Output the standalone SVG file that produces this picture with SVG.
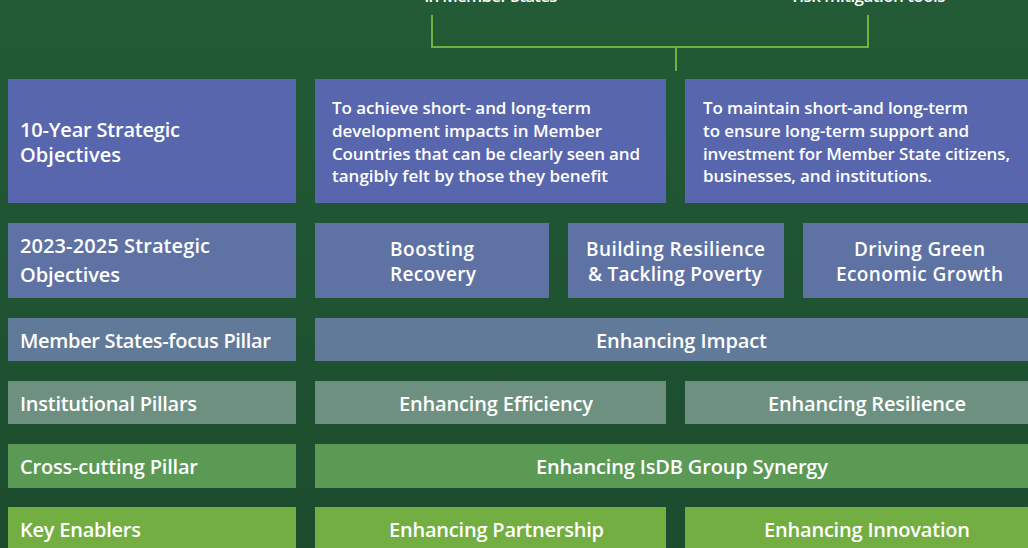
<svg xmlns="http://www.w3.org/2000/svg" width="1028" height="548" viewBox="0 0 1028 548">
<defs>
<linearGradient id="bg" x1="0" y1="0" x2="0" y2="1">
<stop offset="0" stop-color="#225b36"/>
<stop offset="1" stop-color="#1c4c2e"/>
</linearGradient>
</defs>
<style>
text{font-family:"Open Sans","Liberation Sans",sans-serif;font-weight:600;fill:#ffffff;}
.h{font-size:20px;}
.s{font-size:19px;}
.p{font-size:17px;}
.c{text-anchor:middle;}
.r1{fill:#5866ae;}
.r2{fill:#5f72a4;}
.r3{fill:#617a99;}
.r4{fill:#6d9080;}
.r5{fill:#5a9a55;}
.r6{fill:#73ae42;}
.conn{fill:none;stroke:#74b143;stroke-width:2;}
</style>
<rect width="1028" height="548" fill="url(#bg)"/>
<g id="top-labels">
<text class="p c" x="491" y="2" textLength="133">in Member States</text>
<text class="p c" x="869" y="2" textLength="153">risk mitigation tools</text>
</g>
<g id="connectors">
<path class="conn" d="M432 15 V47 H868 V15"/>
<path class="conn" d="M676 47 V71"/>
</g>
<g id="row1-label"><rect class="r1" x="8" y="79" width="288" height="124"/>
<text class="h" x="20" y="137" textLength="160">10-Year Strategic</text>
<text class="h" x="20" y="162" textLength="101">Objectives</text></g>
<g id="row1-obj1"><rect class="r1" x="315" y="79" width="351" height="124"/>
<text class="p" x="332" y="114" textLength="259">To achieve short- and long-term</text>
<text class="p" x="332" y="137" textLength="270">development impacts in Member</text>
<text class="p" x="332" y="160" textLength="308">Countries that can be clearly seen and</text>
<text class="p" x="332" y="182" textLength="276">tangibly felt by those they benefit</text></g>
<g id="row1-obj2"><rect class="r1" x="685" y="79" width="343" height="124"/>
<text class="p" x="703" y="114" textLength="265">To maintain short-and long-term</text>
<text class="p" x="703" y="137" textLength="266">to ensure long-term support and</text>
<text class="p" x="703" y="160" textLength="307">investment for Member State citizens,</text>
<text class="p" x="703" y="182" textLength="229">businesses, and institutions.</text></g>
<g id="row2-label"><rect class="r2" x="8" y="223" width="288" height="75"/>
<text class="h" x="20" y="253" textLength="190">2023-2025 Strategic</text>
<text class="h" x="20" y="282" textLength="100">Objectives</text></g>
<g id="row2-boosting"><rect class="r2" x="315" y="223" width="234" height="75"/>
<text class="s c" x="432" y="256" textLength="84">Boosting</text>
<text class="s c" x="433" y="281" textLength="86">Recovery</text></g>
<g id="row2-building"><rect class="r2" x="568" y="223" width="216" height="75"/>
<text class="s c" x="675.5" y="256" textLength="179">Building Resilience</text>
<text class="s c" x="675" y="281" textLength="174">&amp; Tackling Poverty</text></g>
<g id="row2-driving"><rect class="r2" x="803" y="223" width="225" height="75"/>
<text class="s c" x="919.5" y="256" textLength="131">Driving Green</text>
<text class="s c" x="919.5" y="281" textLength="167">Economic Growth</text></g>
<g id="row3-label"><rect class="r3" x="8" y="318" width="288" height="43"/>
<text class="h" x="20" y="348" textLength="251">Member States-focus Pillar</text></g>
<g id="row3-impact"><rect class="r3" x="315" y="318" width="713" height="43"/>
<text class="h c" x="681.5" y="348" textLength="171">Enhancing Impact</text></g>
<g id="row4-label"><rect class="r4" x="8" y="381" width="288" height="43"/>
<text class="h" x="20" y="411" textLength="177">Institutional Pillars</text></g>
<g id="row4-efficiency"><rect class="r4" x="315" y="381" width="351" height="43"/>
<text class="h c" x="496" y="411" textLength="194">Enhancing Efficiency</text></g>
<g id="row4-resilience"><rect class="r4" x="685" y="381" width="343" height="43"/>
<text class="h c" x="867" y="411" textLength="198">Enhancing Resilience</text></g>
<g id="row5-label"><rect class="r5" x="8" y="444" width="288" height="44"/>
<text class="h" x="20" y="474" textLength="178">Cross-cutting Pillar</text></g>
<g id="row5-synergy"><rect class="r5" x="315" y="444" width="713" height="44"/>
<text class="h c" x="682" y="474" textLength="292">Enhancing IsDB Group Synergy</text></g>
<g id="row6-label"><rect class="r6" x="8" y="507" width="288" height="45"/>
<text class="h" x="20" y="537" textLength="121">Key Enablers</text></g>
<g id="row6-partnership"><rect class="r6" x="315" y="507" width="351" height="45"/>
<text class="h c" x="496.5" y="537" textLength="215">Enhancing Partnership</text></g>
<g id="row6-innovation"><rect class="r6" x="685" y="507" width="343" height="45"/>
<text class="h c" x="867" y="537" textLength="206">Enhancing Innovation</text></g>
</svg>
